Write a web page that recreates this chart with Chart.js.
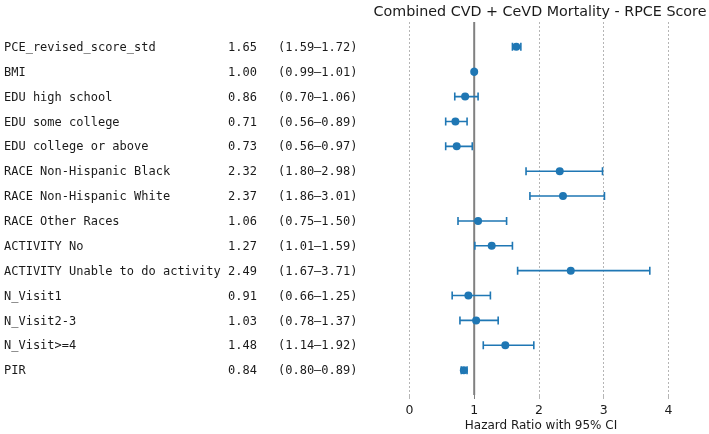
<!DOCTYPE html>
<html>
<head>
<meta charset="utf-8">
<script src="https://cdn.jsdelivr.net/npm/chart.js@4.4.1/dist/chart.umd.min.js"></script>
<style>
  html, body { margin: 0; padding: 0; background: #ffffff; }
  #wrap { width: 709px; height: 434px; }
</style>
</head>
<body>
<div id="wrap"><canvas id="c" width="709" height="434"></canvas></div>
<script>
const chartTitle = "Combined CVD + CeVD Mortality - RPCE Score";
const xAxisTitle = "Hazard Ratio with 95% CI";
const variables = [
  "PCE_revised_score_std", "BMI", "EDU high school", "EDU some college",
  "EDU college or above", "RACE Non-Hispanic Black", "RACE Non-Hispanic White",
  "RACE Other Races", "ACTIVITY No", "ACTIVITY Unable to do activity",
  "N_Visit1", "N_Visit2-3", "N_Visit>=4", "PIR"
];
const hazardRatio = [1.65, 1.00, 0.86, 0.71, 0.73, 2.32, 2.37, 1.06, 1.27, 2.49, 0.91, 1.03, 1.48, 0.84];
const ciLower     = [1.59, 0.99, 0.70, 0.56, 0.56, 1.80, 1.86, 0.75, 1.01, 1.67, 0.66, 0.78, 1.14, 0.80];
const ciUpper     = [1.72, 1.01, 1.06, 0.89, 0.97, 2.98, 3.01, 1.50, 1.59, 3.71, 1.25, 1.37, 1.92, 0.89];
const xTicks = [0, 1, 2, 3, 4];
const referenceValue = 1;

const BLUE = '#1f77b4';
const fmt = v => v.toFixed(2);

const forestPlugin = {
  id: 'forest',
  beforeDatasetsDraw(chart) {
    const { ctx, chartArea, scales } = chart;
    const xs = scales.x, ys = scales.y;
    ctx.save();
    // reference line
    const rx = xs.getPixelForValue(referenceValue);
    ctx.strokeStyle = '#808080';
    ctx.lineWidth = 2;
    ctx.beginPath();
    ctx.moveTo(rx, chartArea.top);
    ctx.lineTo(rx, chartArea.bottom);
    ctx.stroke();
    // error bars
    ctx.strokeStyle = BLUE;
    ctx.lineWidth = 1.6;
    for (let i = 0; i < variables.length; i++) {
      const y = ys.getPixelForValue(i);
      const x1 = xs.getPixelForValue(ciLower[i]);
      const x2 = xs.getPixelForValue(ciUpper[i]);
      ctx.beginPath();
      ctx.moveTo(x1, y); ctx.lineTo(x2, y);
      ctx.moveTo(x1, y - 4); ctx.lineTo(x1, y + 4);
      ctx.moveTo(x2, y - 4); ctx.lineTo(x2, y + 4);
      ctx.stroke();
    }
    ctx.restore();
  },
  afterDraw(chart) {
    const { ctx, chartArea, scales } = chart;
    const ys = scales.y;
    ctx.save();
    // table text
    ctx.fillStyle = '#1a1a1a';
    ctx.font = '12px "DejaVu Sans Mono", monospace';
    ctx.textBaseline = 'middle';
    ctx.textAlign = 'left';
    for (let i = 0; i < variables.length; i++) {
      const y = ys.getPixelForValue(i) + 1;
      ctx.fillText(variables[i], 4, y);
      ctx.fillText(fmt(hazardRatio[i]), 228, y);
      ctx.fillText('(' + fmt(ciLower[i]) + '\u2013' + fmt(ciUpper[i]) + ')', 278, y);
    }
    // title
    const cx = (chartArea.left + chartArea.right) / 2;
    ctx.fillStyle = '#1a1a1a';
    ctx.textAlign = 'center';
    ctx.font = '14.3px "DejaVu Sans", sans-serif';
    ctx.fillText(chartTitle, cx + 1, 12.5);
    // x-axis title
    ctx.font = '12px "DejaVu Sans", sans-serif';
    ctx.fillText(xAxisTitle, cx + 2, 425.5);
    ctx.restore();
  }
};

new Chart(document.getElementById('c'), {
  type: 'scatter',
  data: {
    datasets: [{
      data: hazardRatio.map((v, i) => ({ x: v, y: i })),
      backgroundColor: BLUE,
      borderColor: BLUE,
      pointRadius: 4,
      pointHoverRadius: 4,
      borderWidth: 0
    }]
  },
  options: {
    responsive: false,
    animation: false,
    devicePixelRatio: 1,
    layout: { padding: { left: 377, right: 8, top: 22, bottom: 0 } },
    plugins: { legend: { display: false }, tooltip: { enabled: false }, title: { display: false } },
    scales: {
      x: {
        type: 'linear',
        min: -0.5,
        max: 4.5,
        afterBuildTicks: (scale) => { scale.ticks = xTicks.map(v => ({ value: v })); },
        afterFit: (scale) => { scale.height = 39; },
        ticks: {
          color: '#1a1a1a',
          font: { family: '"DejaVu Sans", sans-serif', size: 12.5 },
          padding: 4,
          maxRotation: 0,
          autoSkip: false
        },
        grid: {
          color: (c) => (c.tick && c.tick.value === referenceValue) ? 'rgba(0,0,0,0)' : '#b5b5b5',
          tickColor: (c) => (c.tick && c.tick.value === referenceValue) ? '#808080' : '#b5b5b5',
          lineWidth: 1,
          tickLength: 4,
          drawTicks: true
        },
        border: { display: false, dash: [2, 2] }
      },
      y: {
        type: 'linear',
        min: -1,
        max: 14,
        reverse: true,
        display: false
      }
    }
  },
  plugins: [forestPlugin]
});
</script>
</body>
</html>
